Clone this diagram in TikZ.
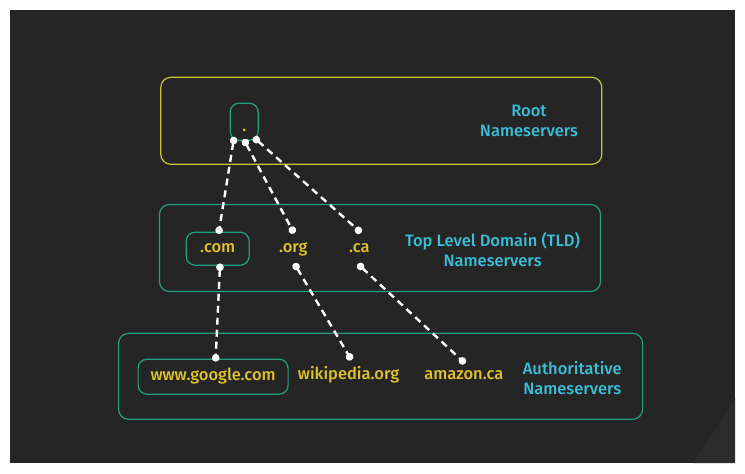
\documentclass[tikz,border=0pt]{standalone}
\usepackage{fontspec}
\setmainfont{Fira Sans}[UprightFont={* Medium}]
\usetikzlibrary{arrows.meta}
\definecolor{bgdark}{HTML}{252525}
\definecolor{bgcorner}{HTML}{2B2B2B}
\definecolor{rootline}{HTML}{C4C63A}
\definecolor{tealline}{HTML}{21A182}
\definecolor{hosttext}{HTML}{E0C22C}
\definecolor{layertext}{HTML}{3BBFD8}
\tikzset{
  layerbox/.style={draw=tealline, line width=1.2pt, rounded corners=10pt, minimum height=87pt},
  zonebox/.style={draw=tealline, line width=1.2pt, rounded corners=9pt},
  hostname/.style={text=hosttext, inner sep=0pt, text height=11pt, text depth=4pt,
    font=\fontsize{16.5}{20}\selectfont},
  layerlabel/.style={text=layertext, align=center, font=\fontsize{16.5}{20}\selectfont},
  dotlink/.style={draw=white, line width=2.4pt, dash pattern=on 7pt off 5pt,
    {Circle[length=7.5pt]}-{Circle[length=7.5pt]}}
}
\begin{document}
\begin{tikzpicture}[x=1pt,y=-1pt]
  \fill[white] (0,0) rectangle (745,474);
  \fill[bgdark] (10,10) rectangle (735,463);
  \fill[bgcorner] (735,398) .. controls (720,425) and (705,445) .. (693,463) -- (735,463) -- cycle;
  \useasboundingbox (0,0) rectangle (745,474);

  \node[layerbox, draw=rootline, minimum width=441pt] (root) at (381.3,120.8) {};
  \node[layerbox, minimum width=441pt] (tld) at (380,248) {};
  \node[layerbox, minimum width=524pt, minimum height=86pt] (auth) at (380.6,376.3) {};

  \node[zonebox, minimum width=28pt, minimum height=37pt] (dot) at (244.2,121.7) {};
  \node[hostname] (dotname) at (244.3,127.7) {.};
  \node[layerlabel] (roottitle) at (529,121) {Root\\Nameservers};

  \node[zonebox, hostname, minimum width=63pt, minimum height=33pt] (com) at (217.7,248.7) {.com};
  \node[hostname] (org) at (293.3,248.5) {.org};
  \node[hostname] (ca) at (359.3,248.5) {.ca};
  \node[layerlabel] (tldtitle) at (492.6,250) {Top Level Domain (TLD)\\Nameservers};

  \node[zonebox, hostname, minimum width=150pt, minimum height=35pt] (google) at (213.1,376.7) {www.google.com};
  \node[hostname] (wiki) at (348.6,376) {wikipedia.org};
  \node[hostname] (amazon) at (463.8,376) {amazon.ca};
  \node[layerlabel] (authtitle) at (572.3,378) {Authoritative\\Nameservers};

  \draw[dotlink] ([xshift=-10pt,yshift=4pt]dot.south) -- ([xshift=0.8pt,yshift=-2.4pt]com.north);
  \draw[dotlink] ([xshift=-0.6pt,yshift=1.6pt]dot.south) -- ([xshift=0.8pt,yshift=7.4pt]org.north);
  \draw[dotlink] ([xshift=9.3pt,yshift=3.7pt]dot.south) -- ([xshift=1.9pt,yshift=8pt]ca.north);
  \draw[dotlink] ([xshift=2.4pt,yshift=2.3pt]com.south) -- ([xshift=2.4pt,yshift=-3pt]google.north);
  \draw[dotlink] ([xshift=0.9pt,yshift=-7.1pt]org.south) -- ([xshift=2.9pt,yshift=8.2pt]wiki.north);
  \draw[dotlink] ([xshift=-1.5pt,yshift=-7.7pt]ca.south) -- ([xshift=1.4pt,yshift=4.8pt]amazon.north);
\end{tikzpicture}
\end{document}
